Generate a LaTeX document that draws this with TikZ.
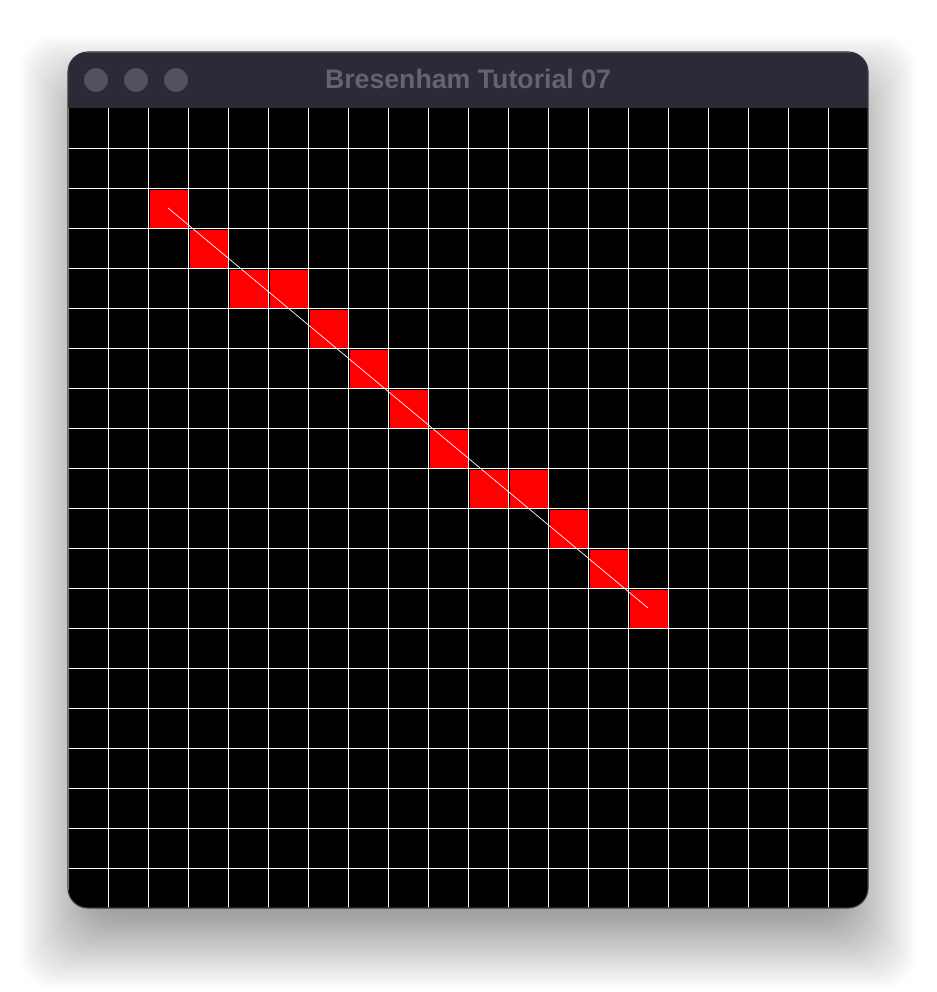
\documentclass[tikz,border=0pt]{standalone}
\usepackage{fontspec}
\newfontfamily\titlefont{Liberation Sans}

\definecolor{barcol}{RGB}{45,42,56}
\definecolor{dotcol}{RGB}{84,80,94}
\definecolor{titlecol}{RGB}{102,99,112}
\definecolor{edgecol}{RGB}{58,58,62}
\definecolor{rimcol}{RGB}{105,103,114}

\tikzset{
  gridline/.style={white, line width=0.6pt},
  pixel/.style={fill=red},
  windot/.style={fill=dotcol},
  shadowlayer/.style={fill=black, opacity=0.012, rounded corners=0.8cm},
  wintitle/.style={text=titlecol, font=\titlefont\bfseries\fontsize{19}{23}\selectfont}
}

\begin{document}
\begin{tikzpicture}
		% Canvas (1 grid cell = 1cm, origin at top-left of the grid)
		\fill[white] (-1.7,-22.1) rectangle (21.7,2.7);
		\useasboundingbox (-1.7,-22.1) rectangle (21.7,2.7);
		
		% --- WINDOW SHADOW (stacked soft layers, shifted down) ---
		\foreach \k in {1,...,40} {
			\pgfmathsetmacro{\e}{-1.2+\k*0.06}
			\fill[shadowlayer] (-\e,-20.8-\e) rectangle (20+\e,0.6+\e);
		}
		
		% --- WINDOW BODY ---
		\begin{scope}
			\clip[rounded corners=0.5cm] (0,-20) rectangle (20,1.4);
			\fill[black] (0,-20) rectangle (20,0);
			\fill[barcol] (0,0) rectangle (20,1.4);
			\draw[rimcol, line width=1.2pt] (0,1.4) -- (20,1.4);
			
			% Plotted pixels (column/row)
			\foreach \c/\r in {2/2, 3/3, 4/4, 5/4, 6/5, 7/6, 8/7, 9/8, 10/9, 11/9, 12/10, 13/11, 14/12}
				\fill[pixel] (\c+0.05,-\r-0.05) rectangle (\c+1,-\r-1);
			
			% Grid lines
			\foreach \i in {0,...,19}
				\draw[gridline] (\i,-20) -- (\i,0);
			\foreach \j in {1,...,19}
				\draw[gridline] (0,-\j) -- (20,-\j);
		\end{scope}
		\draw[edgecol, line width=0.8pt, rounded corners=0.5cm] (0,-20) rectangle (20,1.4);
		
		% Ideal line between the two end pixels
		\coordinate (start) at (2.5,-2.5);
		\coordinate (finish) at (14.5,-12.5);
		\draw[white, line width=0.5pt] (start) -- (finish);
		
		% --- TITLE BAR ---
		\foreach \x in {0.7, 1.7, 2.7}
			\fill[windot] (\x,0.7) circle (0.3);
		\node[wintitle] (title) at (10,0.72) {Bresenham Tutorial 07};
		
	\end{tikzpicture}
\end{document}
